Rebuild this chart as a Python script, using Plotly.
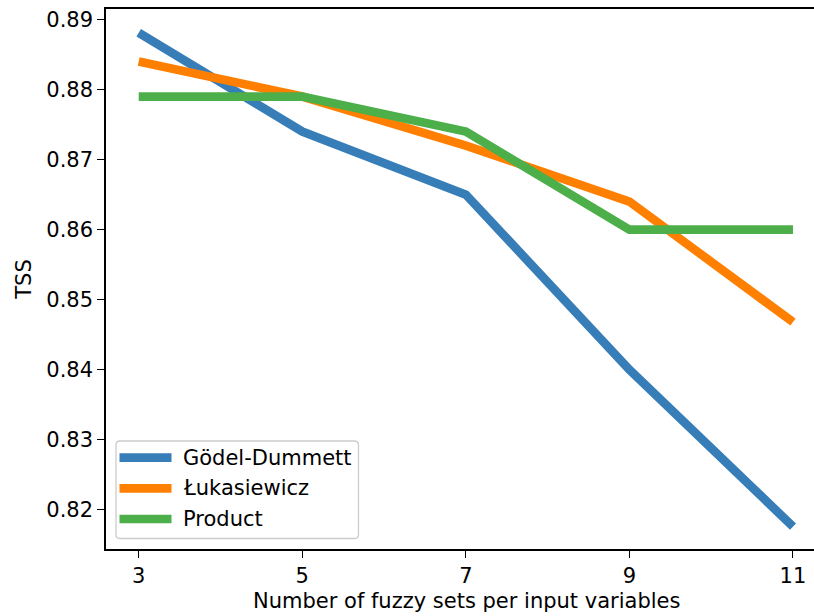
import plotly.graph_objects as go

# Number of fuzzy sets per input variable
fuzzy_sets = [3, 5, 7, 9, 11]

# TSS score for each t-norm
tss_godel = [0.8881, 0.874, 0.865, 0.840, 0.8176]
tss_lukasiewicz = [0.884, 0.879, 0.872, 0.864, 0.8468]
tss_product = [0.879, 0.879, 0.874, 0.860, 0.860]

series_names = ["Gödel-Dummett", "Łukasiewicz", "Product"]
series_values = [tss_godel, tss_lukasiewicz, tss_product]
series_colors = ["#377eb8", "#ff7f00", "#4daf4a"]

y_ticks = [0.82, 0.83, 0.84, 0.85, 0.86, 0.87, 0.88, 0.89]
x_title = "Number of fuzzy sets per input variables"

W, H = 814, 616
ML, MR, MT, MB = 106, 0, 9, 67
PW, PH = W - ML - MR, H - MT - MB
FONT = "DejaVu Sans"
FS = 21


def px_x(px):
    return (px - ML) / PW


def px_y(py):
    return (H - MB - py) / PH


fig = go.Figure()
for name, vals, col in zip(series_names, series_values, series_colors):
    fig.add_trace(go.Scatter(
        x=fuzzy_sets, y=vals, mode="lines", name=name,
        line=dict(color=col, width=8.7), showlegend=False,
    ))

# legend box with rounded corners
bx0, bx1, by0, by1 = 116, 358.5, 441, 538.5
r = 4
x0, x1 = px_x(bx0), px_x(bx1)
y0, y1 = px_y(by1), px_y(by0)
rx, ry = r / PW, r / PH
path = (
    f"M{x0 + rx},{y1} L{x1 - rx},{y1} Q{x1},{y1} {x1},{y1 - ry} "
    f"L{x1},{y0 + ry} Q{x1},{y0} {x1 - rx},{y0} "
    f"L{x0 + rx},{y0} Q{x0},{y0} {x0},{y0 + ry} "
    f"L{x0},{y1 - ry} Q{x0},{y1} {x0 + rx},{y1} Z"
)
shapes = [dict(type="path", path=path, xref="paper", yref="paper",
               fillcolor="rgba(255,255,255,0.8)",
               line=dict(color="#cccccc", width=1.3), layer="above")]
annotations = []
entry_y = [457.7, 488.3, 519.0]
for name, col, ey in zip(series_names, series_colors, entry_y):
    shapes.append(dict(type="line", xref="paper", yref="paper",
                       x0=px_x(119.5), x1=px_x(171.5), y0=px_y(ey), y1=px_y(ey),
                       line=dict(color=col, width=8.7), layer="above"))
    annotations.append(dict(text=name, xref="paper", yref="paper",
                            x=px_x(181), y=px_y(ey), xanchor="left", yanchor="middle",
                            showarrow=False, font=dict(family=FONT, size=FS, color="black")))

# x-axis title, centred on the full axis span (axis extends past the right edge)
annotations.append(dict(text=x_title, xref="paper", yref="paper",
                        x=px_x(466), y=px_y(600.5), xanchor="center", yanchor="middle",
                        showarrow=False, font=dict(family=FONT, size=FS, color="black")))

fig.update_layout(
    width=W, height=H,
    margin=dict(l=ML, r=MR, t=MT, b=MB),
    paper_bgcolor="white", plot_bgcolor="white",
    font=dict(family=FONT, size=FS, color="black"),
    shapes=shapes, annotations=annotations,
    xaxis=dict(
        range=[2.6, 11.257], tickvals=fuzzy_sets, ticktext=[str(v) for v in fuzzy_sets],
        showgrid=False, zeroline=False, showline=True, linecolor="black", linewidth=1.5,
        mirror=True, ticks="outside", ticklen=7, tickwidth=1.3, tickcolor="black",
        tickfont=dict(family=FONT, size=FS),
    ),
    yaxis=dict(
        range=[0.8144, 0.8915], tickvals=y_ticks, ticktext=[f"{v:.2f}" for v in y_ticks],
        showgrid=False, zeroline=False, showline=True, linecolor="black", linewidth=1.5,
        mirror=False, ticks="outside", ticklen=7, tickwidth=1.3, tickcolor="black",
        title=dict(text="TSS", standoff=9, font=dict(family=FONT, size=FS)),
        tickfont=dict(family=FONT, size=FS),
    ),
)

fig.write_html("out.html")
